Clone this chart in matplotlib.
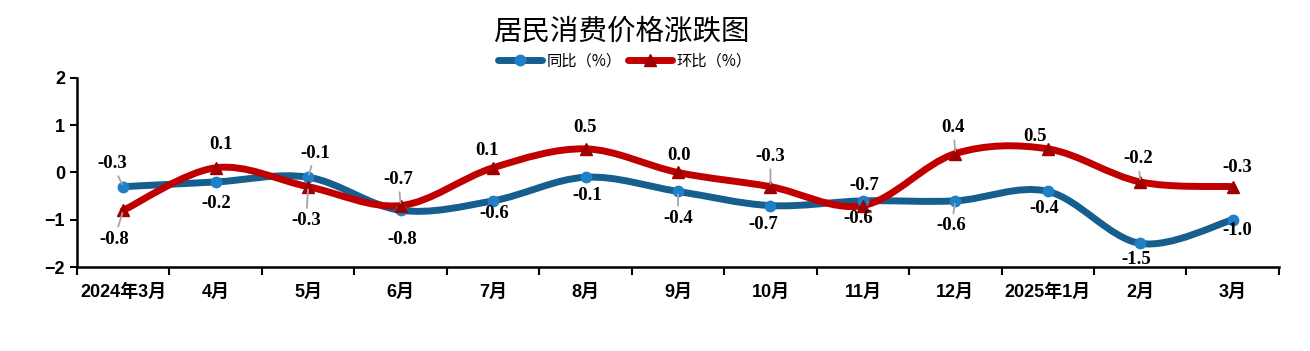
import matplotlib
matplotlib.use('Agg')
import matplotlib.pyplot as plt
from matplotlib.path import Path
from matplotlib.patches import PathPatch
from matplotlib.lines import Line2D
import numpy as np

plt.rcParams['font.family'] = ['Liberation Sans', 'Noto Sans CJK SC']
plt.rcParams['axes.unicode_minus'] = True

months = ['2024年3月', '4月', '5月', '6月', '7月', '8月', '9月', '10月',
          '11月', '12月', '2025年1月', '2月', '3月']
yoy = [-0.3, -0.2, -0.1, -0.8, -0.6, -0.1, -0.4, -0.7, -0.6, -0.6, -0.4, -1.5, -1.0]
mom = [-0.8, 0.1, -0.3, -0.7, 0.1, 0.5, 0.0, -0.3, -0.7, 0.4, 0.5, -0.2, -0.3]
yoy_text = ['-0.3', '-0.2', '-0.1', '-0.8', '-0.6', '-0.1', '-0.4', '-0.7', '-0.6', '-0.6', '-0.4', '-1.5', '-1.0']
mom_text = ['-0.8', '0.1', '-0.3', '-0.7', '0.1', '0.5', '0.0', '-0.3', '-0.7', '0.4', '0.5', '-0.2', '-0.3']

# label offsets in pixels (dx, dy) relative to the point
yoy_off = [(-11, 23), (0, -22), (7, 24), (2, -29), (1, -13), (2, -18), (0, -27),
           (-7, -19), (-5, -18), (-4, -25), (-4, -17), (-4, -16), (5, -11)]
mom_off = [(-9, -29), (5, 23), (-2, -34), (-2, 26), (-6, 17), (-1, 21), (1, 17),
           (0, 30), (1, 20), (-2, 26), (-13, 12), (-2, 23), (5, 19)]
# which labels get a grey leader line
yoy_lead = [1, 0, 1, 0, 0, 0, 1, 0, 0, 1, 0, 0, 0]
mom_lead = [1, 0, 1, 1, 0, 0, 0, 1, 0, 1, 0, 1, 0]

c_blue = '#165e8e'
c_blue_m = '#1f80c8'
c_red = '#c00000'
c_red_m = '#a00000'


def smooth_path(xs, ys, t=0.5):
    # catmull-rom style bezier, like excel smoothed lines
    xs = np.asarray(xs, float)
    ys = np.asarray(ys, float)
    n = len(xs)
    verts = [(xs[0], ys[0])]
    codes = [Path.MOVETO]
    for i in range(n - 1):
        p0 = (xs[max(i - 1, 0)], ys[max(i - 1, 0)])
        p1 = (xs[i], ys[i])
        p2 = (xs[i + 1], ys[i + 1])
        p3 = (xs[min(i + 2, n - 1)], ys[min(i + 2, n - 1)])
        c1 = (p1[0] + (p2[0] - p0[0]) * t / 3, p1[1] + (p2[1] - p0[1]) * t / 3)
        c2 = (p2[0] - (p3[0] - p1[0]) * t / 3, p2[1] - (p3[1] - p1[1]) * t / 3)
        verts += [c1, c2, p2]
        codes += [Path.CURVE4] * 3
    return Path(verts, codes)


fig = plt.figure(figsize=(13.1, 3.51), dpi=100)
ax = fig.add_axes([0.0588, 0.2393, 0.9175, 0.5385])

x = np.arange(len(months))
ax.add_patch(PathPatch(smooth_path(x, yoy), fill=False, edgecolor=c_blue, lw=5,
                       capstyle='round', joinstyle='round', zorder=2))
ax.add_patch(PathPatch(smooth_path(x, mom), fill=False, edgecolor=c_red, lw=5,
                       capstyle='round', joinstyle='round', zorder=3))
ax.plot(x, yoy, ls='none', marker='o', ms=7.5, color=c_blue_m, zorder=4)
ax.plot(x, mom, ls='none', marker='^', ms=8.5, color=c_red_m, zorder=4)

for i in range(len(x)):
    for vals, txt, off, lead in ((yoy, yoy_text, yoy_off, yoy_lead),
                                 (mom, mom_text, mom_off, mom_lead)):
        dx, dy = off[i]
        ax.annotate(txt[i], (x[i], vals[i]), xytext=(dx, dy), textcoords='offset pixels',
                    ha='center', va='center', fontsize=13.5, fontweight='bold',
                    family='Liberation Serif', zorder=6,
                    arrowprops=dict(arrowstyle='-', color='#a6a6a6', lw=1.3,
                                    shrinkA=1, shrinkB=2) if lead[i] else None)

ax.set_xlim(-0.5, len(months) - 0.5)
ax.set_ylim(-2, 2)
ax.set_yticks([-2, -1, 0, 1, 2])
ax.set_xticks(np.arange(-0.5, len(months), 1))
ax.set_xticklabels([])
ax.set_xticks(x, minor=True)
ax.set_xticklabels(months, minor=True)
ax.tick_params(axis='x', which='major', length=6, width=1.5, direction='out')
ax.tick_params(axis='x', which='minor', length=0, pad=12)
ax.tick_params(axis='y', length=5, width=1.5, direction='out')
for lab in ax.get_xticklabels(minor=True) + ax.get_yticklabels():
    lab.set_fontsize(13)
    lab.set_fontweight('bold')
for s in ['top', 'right']:
    ax.spines[s].set_visible(False)
for s in ['left', 'bottom']:
    ax.spines[s].set_linewidth(1.8)

handles = [Line2D([], [], color=c_blue, lw=5, marker='o', ms=7.5, markerfacecolor=c_blue_m,
                  markeredgecolor=c_blue_m, solid_capstyle='round'),
           Line2D([], [], color=c_red, lw=5, marker='^', ms=8.5, markerfacecolor=c_red_m,
                  markeredgecolor=c_red_m, solid_capstyle='round')]
fig.legend(handles, ['同比（%）', '环比（%）'], loc='center', bbox_to_anchor=(0.477, 0.827),
           ncol=2, frameon=False, prop={'family': 'Noto Sans CJK SC', 'size': 11},
           handlelength=2.9, columnspacing=0.4, handletextpad=0.3)

fig.text(0.474, 0.91, '居民消费价格涨跌图', ha='center', va='center',
         fontsize=20.5, family='Noto Sans CJK SC')

fig.savefig('out.png', dpi=100)
